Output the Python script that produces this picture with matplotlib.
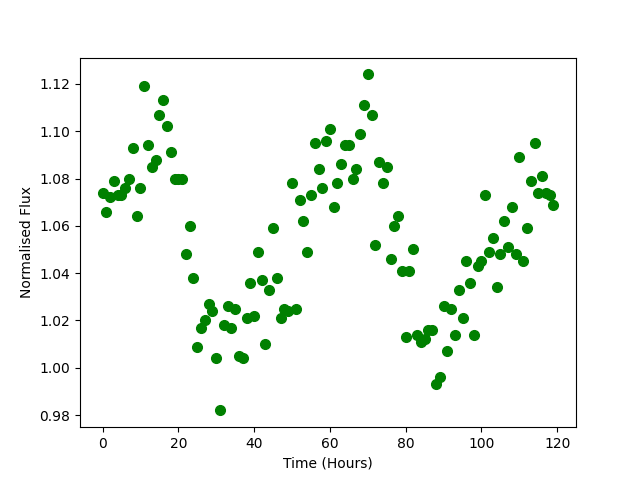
import numpy as np
from matplotlib import pyplot as plt

time_hours = np.arange(120)
flux = [
    1.074, 1.066, 1.072, 1.079, 1.073, 1.073, 1.076, 1.080, 1.093, 1.064,
    1.076, 1.119, 1.094, 1.085, 1.088, 1.107, 1.113, 1.102, 1.091, 1.080,
    1.080, 1.080, 1.048, 1.060, 1.038, 1.009, 1.017, 1.020, 1.027, 1.024,
    1.004, 0.982, 1.018, 1.026, 1.017, 1.025, 1.005, 1.004, 1.021, 1.036,
    1.022, 1.049, 1.037, 1.010, 1.033, 1.059, 1.038, 1.021, 1.025, 1.024,
    1.078, 1.025, 1.071, 1.062, 1.049, 1.073, 1.095, 1.084, 1.076, 1.096,
    1.101, 1.068, 1.078, 1.086, 1.094, 1.094, 1.080, 1.084, 1.099, 1.111,
    1.124, 1.107, 1.052, 1.087, 1.078, 1.085, 1.046, 1.060, 1.064, 1.041,
    1.013, 1.041, 1.050, 1.014, 1.011, 1.012, 1.016, 1.016, 0.993, 0.996,
    1.026, 1.007, 1.025, 1.014, 1.033, 1.021, 1.045, 1.036, 1.014, 1.043,
    1.045, 1.073, 1.049, 1.055, 1.034, 1.048, 1.062, 1.051, 1.068, 1.048,
    1.089, 1.045, 1.059, 1.079, 1.095, 1.074, 1.081, 1.074, 1.073, 1.069,
]


def main():
    plt.figure(figsize=(6.4, 4.8), dpi=100)
    plt.plot(time_hours, flux, 'o', color='green', markersize=7)
    plt.xlabel('Time (Hours)')
    plt.ylabel('Normalised Flux')
    plt.savefig('out.png')


if __name__ == '__main__':
    main()
